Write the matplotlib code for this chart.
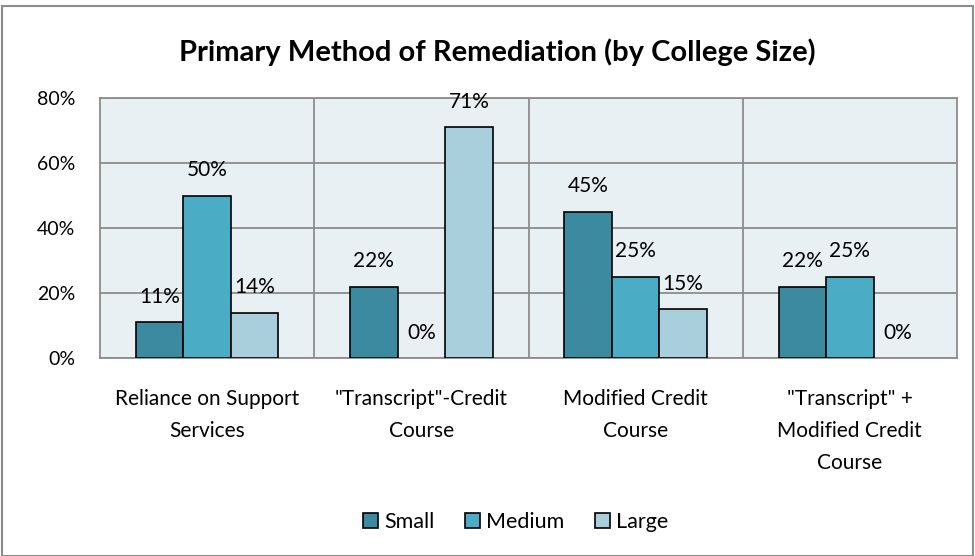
import numpy as np
import matplotlib.pyplot as plt
from matplotlib.ticker import FuncFormatter

# chart data
categories = ['Reliance on Support\nServices', '"Transcript"-Credit\nCourse',
              'Modified Credit\nCourse', '"Transcript" +\nModified Credit\nCourse']
small = [11, 22, 45, 22]
medium = [50, 0, 25, 25]
large = [14, 71, 15, 0]
series_names = ['Small', 'Medium', 'Large']
colors = ['#3B8AA0', '#4BACC6', '#A9CFDC']

plt.rcParams['font.family'] = ['Lato', 'DejaVu Sans']

fig = plt.figure(figsize=(9.75, 5.56), dpi=100)
ax = fig.add_axes([100 / 975, 1 - 358 / 556, 857 / 975, 260 / 556])
ax.set_facecolor('#E9F0F4')

x = np.arange(len(categories))
w = 0.222
for i, (vals, name, col) in enumerate(zip([small, medium, large], series_names, colors)):
    pos = x + (i - 1) * w
    bars = ax.bar(pos, vals, width=w, color=col, edgecolor='black', linewidth=1.2,
                  label=name, zorder=3)
    for b, v in zip(bars, vals):
        if v == 0:
            b.set_linewidth(0)  # Excel draws nothing for a zero bar
    for p, v in zip(pos, vals):
        ax.annotate(f'{v}%', (p, v), xytext=(0, 11), textcoords='offset points',
                    ha='center', va='bottom', fontsize=15, zorder=4)

ax.set_xlim(-0.5, len(categories) - 0.5)
ax.set_ylim(0, 80)
ax.set_yticks(range(0, 81, 20))
ax.yaxis.set_major_formatter(FuncFormatter(lambda v, _: f'{v:.0f}%'))
ax.set_xticks(x)
ax.set_xticklabels(categories, fontsize=15, linespacing=1.75)
ax.tick_params(axis='x', length=0, pad=22)
ax.tick_params(axis='y', labelsize=14, length=0, pad=18)

# grid lines: horizontal at y ticks, vertical at category boundaries
ax.yaxis.grid(True, color='#8C8C8C', linewidth=1.3, zorder=0)
for b in np.arange(0.5, len(categories) - 0.5):
    ax.axvline(b, color='#8C8C8C', linewidth=1.3, zorder=0)
for s in ax.spines.values():
    s.set_color('#8C8C8C')
    s.set_linewidth(1.3)

fig.text(0.51, 1 - 52 / 556, 'Primary Method of Remediation (by College Size)',
         ha='center', va='center', fontsize=21, fontweight='bold')

leg = ax.legend(loc='center', bbox_to_anchor=(0.485, (358 - 522) / 260), ncol=3,
                frameon=False, fontsize=15.5, handlelength=0.7, handleheight=0.7,
                handletextpad=0.3, columnspacing=1.4)

# outer chart border
fig.patches.append(plt.Rectangle((0.002, 0.0), 0.996, 0.99, transform=fig.transFigure,
                                 fill=False, edgecolor='#8C8C8C', linewidth=1.5))

fig.savefig('out.png', dpi=100)
